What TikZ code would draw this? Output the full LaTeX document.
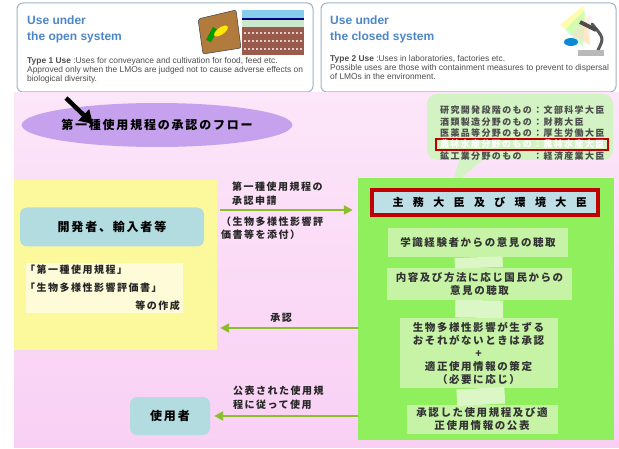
\documentclass[tikz,border=0pt]{standalone}
\usepackage{fontspec}
\setmainfont{Liberation Sans}
\newfontfamily\jp{Noto Sans CJK JP}[LetterSpace=15]
\newfontfamily\jpwide{Noto Sans CJK JP}[LetterSpace=85]
\usepackage{xcolor}
\usetikzlibrary{arrows.meta, positioning, shapes.geometric}

\definecolor{frameblue}{HTML}{9DB4C6}
\definecolor{titleblue}{HTML}{4C86C6}
\definecolor{pinktop}{HTML}{FCE6F9}
\definecolor{pinkbot}{HTML}{F9D0F4}
\definecolor{lavender}{HTML}{C6A2EE}
\definecolor{paleyellow}{HTML}{FCF99C}
\definecolor{cream}{HTML}{FDFBD8}
\definecolor{devblue}{HTML}{B2DCE0}
\definecolor{brightgreen}{HTML}{8FEF5C}
\definecolor{stepgreen}{HTML}{C6F3A6}
\definecolor{bubblegreen}{HTML}{D3F3C4}
\definecolor{flowgreen}{HTML}{8DBE2C}
\definecolor{darkred}{HTML}{C00000}
\definecolor{minblue}{HTML}{BEDFE6}
\definecolor{bagbrown}{HTML}{B27B3E}
\definecolor{soilbrown}{HTML}{9A5B4C}
\definecolor{skyblue}{HTML}{86CDEB}
\definecolor{grassband}{HTML}{CBE8CC}

\tikzset{
  usepanel/.style={draw=frameblue, line width=1pt, rounded corners=6pt, fill=white,
    minimum width=295pt, minimum height=89pt},
  usetitle/.style={anchor=north west, align=left, inner sep=0pt, text=titleblue,
    font=\bfseries\fontsize{12}{16}\selectfont},
  usetext/.style={anchor=north west, align=left, inner sep=0pt, text=black!70,
    font=\fontsize{8.4}{9}\selectfont},
  jptext/.style={inner sep=0pt, text=black!85, font=\jp\bfseries\fontsize{10}{13.5}\selectfont},
  stepbox/.style={fill=stepgreen, inner sep=0pt, align=center, text=black!80,
    font=\jp\bfseries\fontsize{10.5}{13}\selectfont},
  link/.style={draw=stepgreen!65!white, line width=48pt},
  actor/.style={fill=devblue, rounded corners=7pt, font=\jp\bfseries\fontsize{12}{14}\selectfont},
  flow/.style={draw=flowgreen, line width=2.5pt, -{Triangle[length=9pt,width=9pt]}},
  bubbleline/.style={anchor=west, inner sep=0pt, text=black!70,
    font=\jp\bfseries\fontsize{9}{11}\selectfont},
}

\begin{document}
\begin{tikzpicture}[x=1pt, y=-1pt]
  \useasboundingbox[fill=white] (0,0) rectangle (619,449);

  % type 1 / type 2 panels
  \node[usepanel, minimum width=296pt] (open) at (165,47.5) {};
  \node[usepanel] (closed) at (468.5,47.5) {};
  \node[usetitle] (opentitle) at (27,16) {Use under\\the open system};
  \node[usetext] (opentext) at (27,57) {\textbf{Type 1 Use} :Uses for conveyance and cultivation for food, feed etc.\\Approved only when the LMOs are judged not to cause adverse effects on\\biological diversity.};
  \node[usetitle] (closedtitle) at (330,16) {Use under\\the closed system};
  \node[usetext] (closedtext) at (330,55) {\textbf{Type 2 Use} :Uses in laboratories, factories etc.\\Possible uses are those with containment measures to prevent to dispersal\\of LMOs in the environment.};

  % seed bag
  \draw[fill=bagbrown, draw=black!70, line width=0.6pt, rounded corners=2pt]
    (198,19) -- (236,10) -- (241,48) -- (203,54) -- cycle;
  \fill[green!60!black] (206,40) -- (213,27) -- (218,30) -- (211,42) -- cycle;
  \fill[yellow!90!orange, rotate around={35:(221,31)}] (221,31) ellipse (8pt and 3.5pt);
  % soil layers
  \fill[skyblue] (242,10) rectangle (304,18);
  \fill[blue!50!black] (242,18) rectangle (304,20);
  \fill[grassband] (242,20) rectangle (304,27);
  \fill[soilbrown] (242,27) rectangle (304,55);
  \foreach \y in {33,41,49}
    \draw[white!70!soilbrown, line width=1.2pt, dash pattern=on 2pt off 2pt] (244,\y) -- (302,\y);

  % microscope
  \fill[yellow!40, opacity=0.8] (560,25) -- (583,6) -- (590,45) -- cycle;
  \fill[green!30, opacity=0.6] (565,30) -- (585,10) -- (583,47) -- cycle;
  \fill[pink!60, opacity=0.5] (570,35) -- (590,15) -- (590,45) -- cycle;
  \fill[cyan!70!blue] (571,42) ellipse (7pt and 4pt);
  \draw[gray!70!black, line width=3pt, line cap=round] (598,50) .. controls (604,38) .. (592,24);
  \draw[gray!60!black, line width=4pt] (580,22) -- (596,30);
  \fill[gray!55] (578,50) rectangle (604,56);

  % flow background
  \shade[top color=pinktop, bottom color=pinkbot] (14,93) rectangle (619,447);

  \node[ellipse, fill=lavender, minimum width=228pt, minimum height=44pt, inner sep=0pt,
        font=\jp\bfseries\fontsize{12}{14}\selectfont] (flowtitle) at (157,125) {第一種使用規程の承認のフロー};
  \coordinate (pointer) at (66,98);
  \draw[line width=4.5pt, -{Triangle[length=13pt,width=15pt]}] (pointer) -- (93,124);

  % competent ministers
  \fill[bubblegreen] (462,150) -- (494,150) -- (452,186) -- cycle;
  \node[fill=bubblegreen, rounded corners=10pt, minimum width=186pt, minimum height=66pt] (bubble) at (520,127) {};
  \foreach \i/\txt in {1/研究開発段階のもの：文部科学大臣, 2/酒類製造分野のもの：財務大臣,
                       3/医薬品等分野のもの：厚生労働大臣, 5/鉱工業分野のもの　：経済産業大臣}
    \node[bubbleline] (line\i) at (440,99+11.4*\i) {\txt};
  \node[bubbleline, fill=bubblegreen, draw=darkred, line width=2pt, inner xsep=4pt, inner ysep=1pt,
        text=white] (line4) at (435,144.6) {農林水産分野のもの：農林水産大臣};

  % applicant side / government side
  \node[fill=paleyellow, minimum width=203pt, minimum height=170pt] (devpanel) at (115.5,265) {};
  \node[fill=brightgreen, minimum width=256pt, minimum height=262pt] (govpanel) at (486,309) {};

  \node[actor, minimum width=184pt, minimum height=39pt] (developer) at (112,227) {開発者、輸入者等};
  \node[fill=cream, minimum width=157pt, minimum height=50pt] (papers) at (104,288) {};
  \node[jptext, anchor=west] (doc1) at (25,270) {「第一種使用規程」};
  \node[jptext, anchor=west] (doc2) at (25,288) {「生物多様性影響評価書」};
  \node[jptext, anchor=east] (doc3) at (180,306) {等の作成};
  \node[actor, minimum width=80pt, minimum height=38pt] (user) at (170,416) {使用者};

  \node[fill=minblue, draw=darkred, line width=4pt, minimum width=226pt, minimum height=25pt,
        font=\jpwide\bfseries\fontsize{11}{13}\selectfont] (minister) at (485,202.5) {\kern9.35pt 主務大臣及び環境大臣};

  \node[stepbox, minimum width=180pt, minimum height=29pt] (hearing) at (478,242.5) {学識経験者からの意見の聴取};
  \node[stepbox, minimum width=185pt, minimum height=32pt] (comments) at (479.5,284) {内容及び方法に応じ国民からの\\意見の聴取};
  \node[stepbox, minimum width=158pt, minimum height=70pt] (approval) at (478.5,353) {生物多様性影響が生ずる\\おそれがないときは承認\\+\\適正使用情報の策定\\（必要に応じ）};
  \node[stepbox, minimum width=151pt, minimum height=29pt] (publish) at (482,419.5) {承認した使用規程及び適\\正使用情報の公表};
  \draw[link] (hearing) -- (comments);
  \draw[link] (comments) -- (approval);
  \draw[link] (approval) -- (publish);

  % arrows between the two sides
  \node[jptext, anchor=west, align=left] (applylabel) at (232,193.5) {第一種使用規程の\\承認申請};
  \node[jptext, anchor=west, align=left] (attachlabel) at (221,228) {（生物多様性影響評\\価書等を添付）};
  \node[jptext] (oklabel) at (281,318) {承認};
  \node[jptext, anchor=west, align=left] (uselabel) at (233,397.5) {公表された使用規\\程に従って使用};
  \draw[flow, shorten <=3pt, shorten >=5pt] (devpanel.east |- 0,210) -- (govpanel.west |- 0,210);
  \draw[flow, shorten >=3pt] (govpanel.west |- 0,328) -- (devpanel.east |- 0,328);
  \draw[flow, shorten >=4pt] (govpanel.west |- user) -- (user.east);
\end{tikzpicture}
\end{document}
